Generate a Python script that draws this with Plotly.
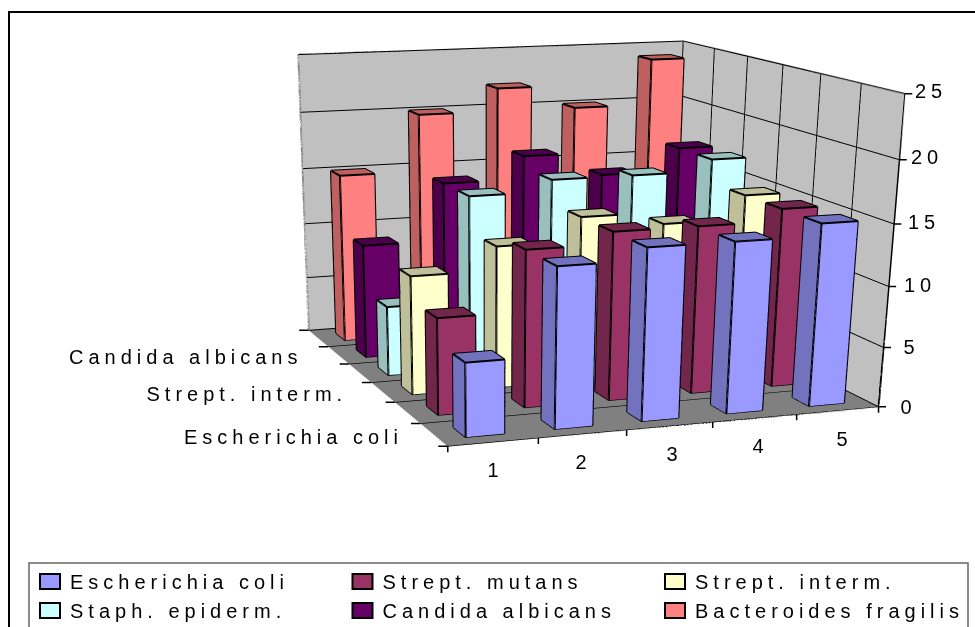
import numpy as np
import plotly.graph_objects as go

categories = [1, 2, 3, 4, 5]
series_names = ["Escherichia coli", "Strept. mutans", "Strept. interm.", "Staph. epiderm.", "Candida albicans", "Bacteroides fragilis"]
ecoli = [6, 13, 14, 14, 15]
mutans = [8, 13, 14, 14, 15]
interm = [10, 12, 14, 13, 15]
staph = [6, 15, 16, 16, 17]
candida = [10, 15, 17, 15, 17]
bacteroides = [15, 20, 22, 20, 24]
series_values = [ecoli, mutans, interm, staph, candida, bacteroides]
face_colors = ["#9999FF", "#993366", "#FFFFCC", "#CCFFFF", "#660066", "#FF8080"]
z_ticks = [0, 5, 10, 15, 20, 25]
y_tick_labels = {1: "Escherichia coli", 3: "Strept. interm.", 5: "Candida albicans"}

# The scene is taller than the window: a long lens gives the weak perspective of the
# original, and only the top 627 px of the page are seen.
W, H = 975, 1763
eye = dict(x=-1.8838, y=-4.8704, z=0.8956)
center = dict(x=-0.2142, y=0.0311, z=-1.7329)
aspect = dict(x=1.0332, y=1.1850, z=0.6750)

half = 0.215
fig = go.Figure()
for s, (name, vals, col) in enumerate(zip(series_names, series_values, face_colors), start=1):
    X, Y, Z, I, J_, K, FC, ex, ey, ez = [], [], [], [], [], [], [], [], [], []
    c = np.array([int(col[i:i+2], 16) for i in (1, 3, 5)])
    dark = "rgb(%d,%d,%d)" % tuple(c * 0.75)
    for cat, v in zip(categories, vals):
        b = len(X)
        x0, x1, y0, y1 = cat-half, cat+half, s-half, s+half
        X += [x0,x1,x1,x0,x0,x1,x1,x0]; Y += [y0,y0,y1,y1,y0,y0,y1,y1]; Z += [0,0,0,0,v,v,v,v]
        tris = [((0,1,5),col),((0,5,4),col),((3,0,4),dark),((3,4,7),dark),((4,5,6),dark),((4,6,7),dark),
                ((1,2,6),dark),((1,6,5),dark),((2,3,7),dark),((2,7,6),dark),((0,1,2),dark),((0,2,3),dark)]
        for (a0,a1,a2),fc in tris:
            I.append(b+a0); J_.append(b+a1); K.append(b+a2); FC.append(fc)
        for path in ([0,1,2,3,0,4,5,6,7,4],[1,5],[2,6],[3,7]):
            for q in path:
                ex.append(X[b+q]); ey.append(Y[b+q]); ez.append(Z[b+q])
            ex.append(None); ey.append(None); ez.append(None)
    fig.add_trace(go.Mesh3d(x=X,y=Y,z=Z,i=I,j=J_,k=K,facecolor=FC,flatshading=True,showlegend=False,hoverinfo="skip",
                            lighting=dict(ambient=1,diffuse=0,specular=0,fresnel=0)))
    fig.add_trace(go.Scatter3d(x=ex,y=ey,z=ez,mode="lines",line=dict(color="black",width=4),showlegend=False,hoverinfo="skip"))
    fig.add_trace(go.Scatter(x=[None],y=[None],mode="markers",name=name,
                             marker=dict(symbol="square",size=16,color=col,line=dict(color="black",width=1))))

xr = [0.5, 5.5]; yr = [0.5, 6.5]; zr = [0, 25]
N = None
fig.add_trace(go.Scatter3d(x=[xr[0],xr[0],xr[1],xr[1],N,xr[1],xr[1]],y=[yr[1],yr[1],yr[1],yr[0],N,yr[1],yr[1]],z=[zr[0],zr[1],zr[1],zr[1],N,zr[0],zr[1]],
                           mode="lines",line=dict(color="#808080",width=4),showlegend=False,hoverinfo="skip"))
fig.add_trace(go.Scatter3d(x=[xr[0],xr[0],xr[1],xr[1]],y=[yr[1],yr[0],yr[0],yr[0]],z=[zr[0],zr[0],zr[0],zr[1]],
                           mode="lines",line=dict(color="black",width=4),showlegend=False,hoverinfo="skip"))

def note(x,y,z,text,sx,sy,anchor="center"):
    return dict(x=x,y=y,z=z,text=text,showarrow=False,xshift=sx,yshift=sy,xanchor=anchor,font=dict(size=20,color="black"))
def tick(x,y,z,ax,ay):
    return dict(x=x,y=y,z=z,text=" ",showarrow=True,arrowhead=0,arrowwidth=1.5,arrowcolor="black",ax=ax,ay=ay,standoff=0,font=dict(size=1))
ann = []
for c in categories:
    ann.append(note(c,0.5,0,str(c),[2,1,5,6,7][c-1],-28))
    ann.append(tick(c-0.5,0.5,0,0,8))
ann.append(tick(5.5,0.5,0,0,8))
y_label_shift = {1: -69, 3: -71, 5: -75}
for s,t in y_tick_labels.items():
    ann.append(note(0.5,s,0,t,y_label_shift[s],-2,"right"))
for yt in [0.5,1.5,2.5,3.5,4.5,5.5,6.5]:
    ann.append(tick(0.5,yt,0,-11,0))
for v in z_ticks:
    ann.append(note(5.5,0.5,v,str(v),22-0.35*v,0.12*v,"left"))
    ann.append(tick(5.5,0.5,v,9,0))

def px(v): return v/W
def py(v): return 1-v/H
axis = dict(showticklabels=False, zeroline=False, showspikes=False, title="", showbackground=True, ticks="", showline=False)
fig.update_layout(
    template="none",
    width=W,height=H,margin=dict(l=0,r=0,t=0,b=0),paper_bgcolor="white",plot_bgcolor="white",
    font=dict(family="Liberation Sans",color="black"),
    xaxis=dict(visible=False),yaxis=dict(visible=False),
    scene=dict(domain=dict(x=[0,1],y=[0,1]),bgcolor="rgba(0,0,0,0)",
        aspectmode="manual",aspectratio=aspect,
        camera=dict(eye=eye,center=center,up=dict(x=0,y=0,z=1)),
        xaxis=dict(axis,range=xr,tickvals=[0.5,1.5,2.5,3.5,4.5,5.5],showgrid=False,backgroundcolor="#C0C0C0"),
        yaxis=dict(axis,range=yr,tickvals=[0.5,1.5,2.5,3.5,4.5,5.5,6.5],showgrid=True,gridcolor="black",gridwidth=2,backgroundcolor="#C0C0C0"),
        zaxis=dict(axis,range=zr,tickvals=z_ticks,showgrid=True,gridcolor="black",gridwidth=2,backgroundcolor="#808080"),
        annotations=ann),
    legend=dict(orientation="h",x=px(30),y=py(562),yanchor="top",xanchor="left",entrywidth=267.5,entrywidthmode="pixels",itemsizing="constant",font=dict(size=20),bgcolor="rgba(0,0,0,0)"),
    shapes=[dict(type="rect",xref="paper",yref="paper",x0=px(9),x1=1.02,y0=-0.05,y1=py(12),line=dict(color="black",width=2),layer="below"),
            dict(type="rect",xref="paper",yref="paper",x0=px(29),x1=px(968),y0=-0.05,y1=py(563),line=dict(color="#666666",width=1.5),fillcolor="white",layer="below")],
)
post = """
document.documentElement.style.overflow='hidden';document.body.style.margin='0';document.body.style.overflow='hidden';
var st=document.createElement('style');st.textContent='.legendtext,.annotation-text{letter-spacing:5px}.legendpoints .scatterpts{d:path("M-10,-7.5H10V7.5H-10Z")}';document.head.appendChild(st);
var gd=document.getElementById('{plot_id}');Plotly.redraw(gd);
"""
fig.write_html("out.html", post_script=post, config=dict(displayModeBar=False))
